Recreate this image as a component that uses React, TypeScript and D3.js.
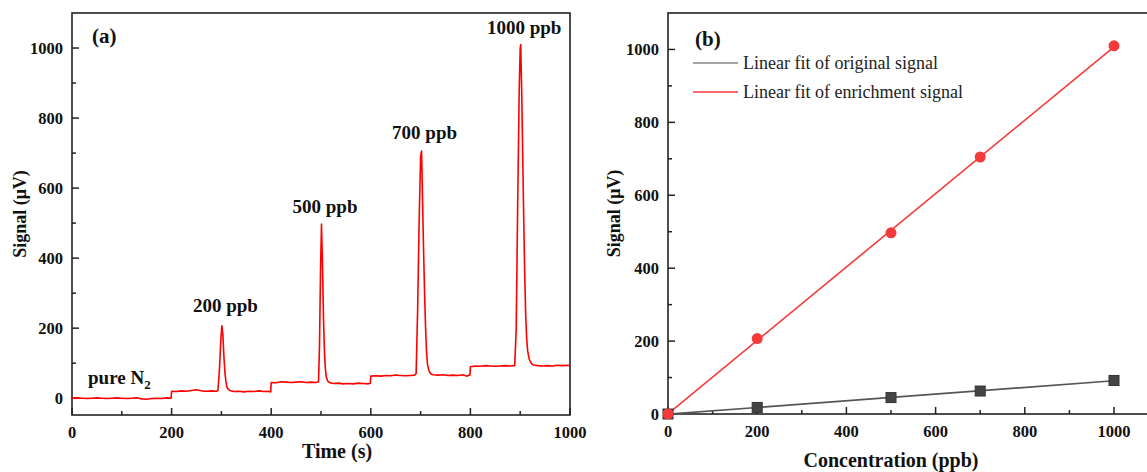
import React from 'react';
import * as d3 from 'd3';

// panel (a): signal vs time
const timeS = [
  0, 10, 20, 30, 40, 50, 60, 70, 80, 90, 100, 110, 120, 130, 140, 150, 160, 170, 180, 190, 199,
  200, 210, 220, 230, 240, 250, 260, 270, 280, 290, 293, 296, 299, 301, 303, 305, 307, 309, 311, 314, 318, 325, 335, 345, 355, 365, 375, 385, 395, 399,
  400, 410, 420, 430, 440, 450, 460, 470, 480, 490, 495, 497, 499, 501, 503, 505, 507, 509, 511, 514, 518, 525, 535, 545, 555, 565, 575, 585, 595, 599,
  600, 610, 620, 630, 640, 650, 660, 670, 680, 688, 691, 694, 697, 700, 702, 704, 706, 708, 710, 712, 714, 717, 720, 725, 735, 745, 755, 765, 775, 785, 792, 799,
  800, 810, 820, 830, 840, 850, 860, 870, 880, 889, 892, 895, 898, 900, 901, 903, 905, 907, 909, 911, 913, 915, 918, 922, 926, 935, 945, 955, 965, 975, 985, 995, 1000,
];
const signalUV = [
  0, 1, 0, -1, 0, 1, 0, -1, 0, 1, 0, -1, 0, 1, -2, -3, -1, 0, -1, 1, 0,
  20, 19, 21, 20, 22, 24, 21, 20, 21, 20, 22, 80, 170, 207, 180, 120, 75, 48, 32, 25, 21, 19, 20, 18, 20, 19, 21, 19, 20, 18,
  45, 44, 47, 46, 45, 46, 47, 45, 46, 45, 47, 150, 360, 497, 380, 230, 130, 80, 58, 48, 44, 42, 43, 41, 42, 41, 43, 42, 41, 43,
  63, 64, 63, 65, 64, 66, 65, 64, 65, 66, 70, 250, 500, 690, 706, 560, 420, 300, 200, 130, 95, 78, 70, 67, 66, 67, 65, 66, 65, 67, 63, 66,
  90, 92, 91, 93, 92, 91, 92, 93, 92, 93, 200, 560, 880, 1000, 1010, 880, 700, 520, 360, 240, 170, 135, 112, 100, 95, 93, 92, 93, 92, 94, 93, 94, 93,
];
const peakLabels = ['200 ppb', '500 ppb', '700 ppb', '1000 ppb'];
const peakTimes = [300, 500, 700, 900];
const peakLabelValues = [245, 530, 740, 1040];

// panel (b): calibration points
const concentration = [0, 200, 500, 700, 1000];
const originalSignal = [0, 18, 45, 63, 92];
const enrichedSignal = [0, 207, 497, 705, 1010];

const ticks = [0, 200, 400, 600, 800, 1000];
const minorTicks = [100, 300, 500, 700, 900];

const W = 1147;
const H = 472;
const axisColor = '#222';
const font = '"Liberation Serif", "Times New Roman", serif';

function fit(xs: number[], ys: number[]) {
  const mx = d3.mean(xs)!;
  const my = d3.mean(ys)!;
  const slope = d3.sum(xs, (x, i) => (x - mx) * (ys[i] - my)) / d3.sum(xs, (x) => (x - mx) * (x - mx));
  return (x: number) => my + slope * (x - mx);
}

function Axes({ x, y, frameRight }: any) {
  const [x0] = x.range();
  const [y0, y1] = y.range();
  return (
    <g>
      <rect x={x0} y={y1} width={frameRight - x0} height={y0 - y1} fill="none" stroke={axisColor} strokeWidth={1.6} />
      {ticks.map((t) => (
        <g key={'x' + t}>
          <line x1={x(t)} x2={x(t)} y1={y0} y2={y0 - 7} stroke={axisColor} strokeWidth={1.5} />
          <text x={x(t)} y={y0 + 23} textAnchor="middle" fontSize={16.5} fontWeight="bold" fontFamily={font} fill="#111">{t}</text>
        </g>
      ))}
      {minorTicks.map((t) => (
        <line key={'xm' + t} x1={x(t)} x2={x(t)} y1={y0} y2={y0 - 4} stroke={axisColor} strokeWidth={1.5} />
      ))}
      {ticks.map((t) => (
        <g key={'y' + t}>
          <line x1={x0} x2={x0 + 7} y1={y(t)} y2={y(t)} stroke={axisColor} strokeWidth={1.5} />
          <text x={x0 - 9} y={y(t) + 6} textAnchor="end" fontSize={16.5} fontWeight="bold" fontFamily={font} fill="#111">{t}</text>
        </g>
      ))}
      {minorTicks.map((t) => (
        <line key={'ym' + t} x1={x0} x2={x0 + 4} y1={y(t)} y2={y(t)} stroke={axisColor} strokeWidth={1.5} />
      ))}
    </g>
  );
}

export default function App() {
  // panel (a)
  const xa = d3.scaleLinear().domain([0, 1000]).range([72, 570]);
  const ya = d3.scaleLinear().domain([-48, 1100]).range([415, 13]);
  const lineA = d3.line<number>().x((d, i) => xa(timeS[i])).y((d) => ya(d));

  // panel (b)
  const xb = d3.scaleLinear().domain([0, 1000]).range([668, 1114]);
  const yb = d3.scaleLinear().domain([0, 1100]).range([414, 13]);
  const fitO = fit(concentration, originalSignal);
  const fitE = fit(concentration, enrichedSignal);
  const fitLine = (f: (x: number) => number) =>
    d3.line<number>().x((c) => xb(c)).y((c) => yb(f(c)))([0, 1000]) as string;

  return (
    <svg width={W} height={H} style={{ position: 'absolute', left: 0, top: 0, background: '#fff' }}>
      {/* panel (a) */}
      <Axes x={xa} y={ya} frameRight={570} />
      <path d={lineA(signalUV) as string} fill="none" stroke="#ff0000" strokeWidth={1.6} strokeLinejoin="round" />
      <text x={92} y={43} fontSize={21} fontWeight="bold" fontFamily={font} fill="#111">(a)</text>
      <text x={88} y={384} fontSize={19} fontWeight="bold" fontFamily={font} fill="#111">
        pure N<tspan dy={5} fontSize={13}>2</tspan>
      </text>
      {peakLabels.map((l, i) => (
        <text key={l} x={xa(peakTimes[i]) + 4} y={ya(peakLabelValues[i])} textAnchor="middle" fontSize={19} fontWeight="bold" fontFamily={font} fill="#111">{l}</text>
      ))}
      <text x={337} y={458} textAnchor="middle" fontSize={20} fontWeight="bold" fontFamily={font} fill="#111">Time (s)</text>
      <text transform={`translate(26,${(13 + 415) / 2}) rotate(-90)`} textAnchor="middle" fontSize={18} fontWeight="bold" fontFamily={font} fill="#111">Signal (μV)</text>

      {/* panel (b) */}
      <Axes x={xb} y={yb} frameRight={W + 10} />
      <path d={fitLine(fitO)} fill="none" stroke="#555" strokeWidth={1.6} />
      <path d={fitLine(fitE)} fill="none" stroke="#f53a3a" strokeWidth={1.6} />
      {concentration.map((c, i) => (
        <rect key={'s' + c} x={xb(c) - 5} y={yb(originalSignal[i]) - 5} width={10} height={10} fill="#444" stroke="#333" strokeWidth={1} />
      ))}
      {concentration.map((c, i) => (
        <circle key={'c' + c} cx={xb(c)} cy={yb(enrichedSignal[i])} r={5.5} fill="#f53a3a" />
      ))}
      <text x={695} y={46} fontSize={21} fontWeight="bold" fontFamily={font} fill="#111">(b)</text>
      <line x1={693} x2={738} y1={63} y2={63} stroke="#888" strokeWidth={1.6} />
      <text x={743} y={69} fontSize={18} fontFamily={font} fill="#222">Linear fit of original signal</text>
      <line x1={693} x2={738} y1={92} y2={92} stroke="#f53a3a" strokeWidth={1.6} />
      <text x={743} y={98} fontSize={18} fontFamily={font} fill="#222">Linear fit of enrichment signal</text>
      <text x={891} y={467} textAnchor="middle" fontSize={20} fontWeight="bold" fontFamily={font} fill="#111">Concentration (ppb)</text>
      <text transform={`translate(620,${(13 + 414) / 2}) rotate(-90)`} textAnchor="middle" fontSize={18} fontWeight="bold" fontFamily={font} fill="#111">Signal (μV)</text>
    </svg>
  );
}
